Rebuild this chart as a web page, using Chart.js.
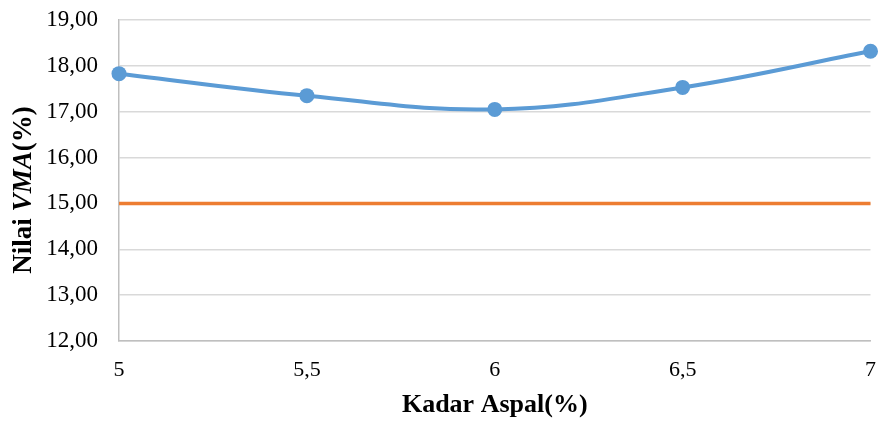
<!DOCTYPE html>
<html>
<head>
<meta charset="utf-8">
<script src="https://cdn.jsdelivr.net/npm/chart.js@4.4.1/dist/chart.umd.min.js"></script>
<style>
  html, body { margin: 0; padding: 0; background: #fff; }
  canvas { display: block; }
</style>
</head>
<body>
<canvas id="myChart" width="878" height="421"></canvas>
<script>
/*-------------------------
~~~~~~~Chart Data~~~~~~~
-------------------------*/
const kadarAspal = ['5', '5,5', '6', '6,5', '7'];
const nilaiVMA = [17.83, 17.35, 17.05, 17.53, 18.32];
const batasVMA = [15, 15, 15, 15, 15];
const yMin = 12;
const yMax = 19;

const blue = '#5B9BD5';
const orange = '#ED7D31';
const gridColor = '#D9D9D9';
const fontFamily = '"Liberation Serif", "Times New Roman", serif';

/*-------------------------
~~~~~~~Axis Titles~~~~~~~
-------------------------*/
const axisTitles = {
    id: 'axisTitles',
    afterDraw(chart) {
        const ctx = chart.ctx;
        const area = chart.chartArea;
        ctx.save();
        ctx.fillStyle = '#000';
        ctx.textBaseline = 'middle';

        // x title
        ctx.font = 'bold 26px ' + fontFamily;
        ctx.textAlign = 'center';
        ctx.fillText('Kadar Aspal(%)', (area.left + area.right) / 2, 405);

        // y title, with VMA in italic
        const parts = [
            { text: 'Nilai ', font: 'bold 27px ' + fontFamily },
            { text: 'VMA', font: 'italic bold 27px ' + fontFamily },
            { text: '(%)', font: 'bold 27px ' + fontFamily }
        ];
        let total = 0;
        parts.forEach(p => { ctx.font = p.font; p.w = ctx.measureText(p.text).width; total += p.w; });
        ctx.translate(24, 190);
        ctx.rotate(-Math.PI / 2);
        ctx.textAlign = 'left';
        let x = -total / 2;
        parts.forEach(p => { ctx.font = p.font; ctx.fillText(p.text, x, 0); x += p.w; });
        ctx.restore();
    }
};

/*-------------------------
~~~~~~~Chart.js~~~~~~~
-------------------------*/
const ctx = document.getElementById('myChart').getContext('2d');
const myChart = new Chart(ctx, {
    type: 'line',
    data: {
        labels: kadarAspal,
        datasets: [
            {
                label: 'VMA',
                data: nilaiVMA,
                borderColor: blue,
                backgroundColor: blue,
                borderWidth: 4,
                pointRadius: 7.5,
                pointBorderWidth: 0,
                tension: 0.4,
                clip: false,
                order: 0
            },
            {
                label: 'Batas',
                data: batasVMA,
                borderColor: orange,
                backgroundColor: orange,
                borderWidth: 3.5,
                pointRadius: 0,
                tension: 0,
                order: 1
            }
        ]
    },
    options: {
        responsive: false,
        animation: false,
        layout: { padding: { top: 20, right: 7, left: 0, bottom: 0 } },
        plugins: {
            legend: { display: false },
            tooltip: { enabled: false }
        },
        scales: {
            x: {
                offset: false,
                grid: { display: false },
                border: { display: true, color: '#BFBFBF', width: 1.5 },
                ticks: {
                    color: '#000',
                    font: { family: fontFamily, size: 22 },
                    padding: 8,
                    maxRotation: 0
                },
                afterFit(scale) {
                    scale.height = 80;
                    scale.paddingLeft = 0;
                    scale.paddingRight = 0;
                }
            },
            y: {
                min: yMin,
                max: yMax,
                grid: { color: gridColor, lineWidth: 1.5, drawTicks: false },
                border: { display: true, color: '#BFBFBF', width: 1.5 },
                ticks: {
                    stepSize: 1,
                    color: '#000',
                    font: { family: fontFamily, size: 23 },
                    padding: 21,
                    callback: v => v.toFixed(2).replace('.', ',')
                },
                afterFit(scale) {
                    scale.width = 119;
                    scale.paddingTop = 0;
                    scale.paddingBottom = 0;
                }
            }
        }
    },
    plugins: [axisTitles]
});
</script>
</body>
</html>
